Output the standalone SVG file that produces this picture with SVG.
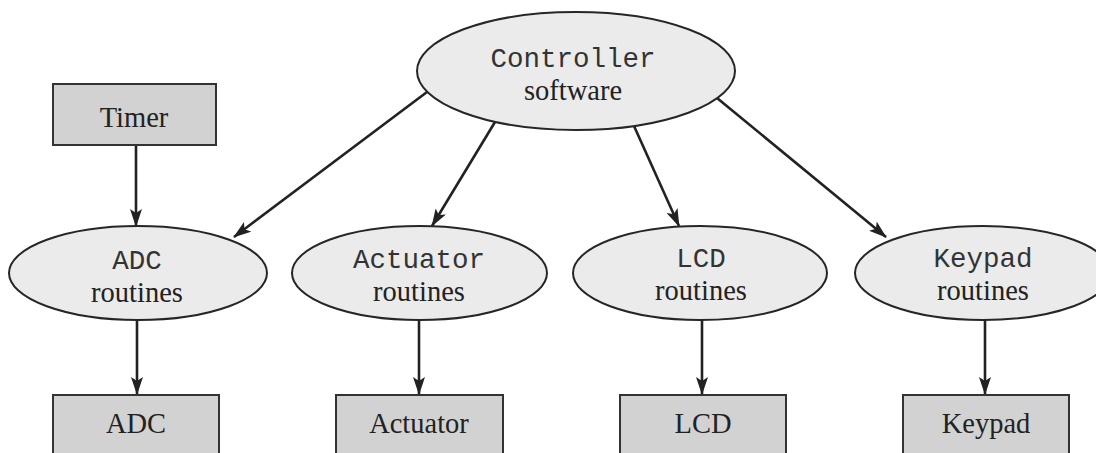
<svg xmlns="http://www.w3.org/2000/svg" width="1096" height="453" viewBox="0 0 1096 453">
  <defs>
    <style>
      .ell { fill: #ebebeb; stroke: #262626; stroke-width: 2; }
      .box { fill: #d2d2d2; stroke: #333333; stroke-width: 2; }
      .mono { font-family: "Liberation Mono", "Courier New", monospace; font-size: 27.5px; fill: #333333; text-anchor: middle; }
      .serif { font-family: "Liberation Serif", "Times New Roman", serif; font-size: 28.5px; fill: #222222; text-anchor: middle; }
      .conn { stroke: #222222; stroke-width: 2.6; fill: none; marker-end: url(#arrow); }
    </style>
    <marker id="arrow" markerUnits="userSpaceOnUse" markerWidth="18" markerHeight="12" viewBox="0 0 18 12" refX="17" refY="6" orient="auto">
      <path d="M0,0 L18,6 L0,12 L4,6 Z" fill="#222222"/>
    </marker>
  </defs>

  <g id="connectors">
    <line class="conn" x1="136" y1="145" x2="136" y2="226"/>
    <line class="conn" x1="427" y1="92" x2="234" y2="237"/>
    <line class="conn" x1="495" y1="122" x2="432" y2="226"/>
    <line class="conn" x1="634" y1="126" x2="679" y2="226"/>
    <line class="conn" x1="717" y1="98" x2="886" y2="237"/>
    <line class="conn" x1="137" y1="320" x2="137" y2="394"/>
    <line class="conn" x1="419" y1="320" x2="419" y2="394"/>
    <line class="conn" x1="702" y1="320" x2="702" y2="394"/>
    <line class="conn" x1="985" y1="320" x2="985" y2="394"/>
  </g>

  <g id="controller">
    <ellipse class="ell" cx="576" cy="71" rx="159" ry="59"/>
    <text class="mono" x="573" y="67">Controller</text>
    <text class="serif" x="573" y="100">software</text>
  </g>

  <g id="timer">
    <rect class="box" x="53" y="84" width="163" height="61"/>
    <text class="serif" x="134" y="127">Timer</text>
  </g>

  <g id="adc-routines">
    <ellipse class="ell" cx="138" cy="273" rx="129" ry="47"/>
    <text class="mono" x="137" y="269">ADC</text>
    <text class="serif" x="137" y="302">routines</text>
  </g>

  <g id="actuator-routines">
    <ellipse class="ell" cx="419.5" cy="273" rx="127.5" ry="47"/>
    <text class="mono" x="419" y="268">Actuator</text>
    <text class="serif" x="419" y="301">routines</text>
  </g>

  <g id="lcd-routines">
    <ellipse class="ell" cx="700" cy="273" rx="127" ry="47"/>
    <text class="mono" x="701" y="267">LCD</text>
    <text class="serif" x="701" y="300">routines</text>
  </g>

  <g id="keypad-routines">
    <ellipse class="ell" cx="983" cy="273" rx="128" ry="47"/>
    <text class="mono" x="983" y="267">Keypad</text>
    <text class="serif" x="983" y="300">routines</text>
  </g>

  <g id="adc">
    <rect class="box" x="53" y="395" width="166" height="70"/>
    <text class="serif" x="136" y="433">ADC</text>
  </g>

  <g id="actuator">
    <rect class="box" x="336" y="395" width="167" height="70"/>
    <text class="serif" x="419" y="433">Actuator</text>
  </g>

  <g id="lcd">
    <rect class="box" x="620" y="395" width="166" height="70"/>
    <text class="serif" x="703" y="433">LCD</text>
  </g>

  <g id="keypad">
    <rect class="box" x="903" y="395" width="166" height="70"/>
    <text class="serif" x="986" y="433">Keypad</text>
  </g>
</svg>
